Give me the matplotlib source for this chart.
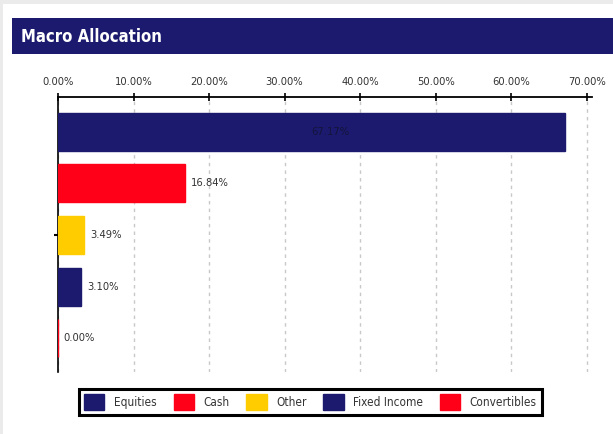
import matplotlib
matplotlib.use("Agg")
import matplotlib.pyplot as plt
from matplotlib.patches import Rectangle, Patch
import numpy as np

# --- data ---
categories = ["Equities", "Cash", "Other", "Fixed Income", "Convertibles"]
values = [67.17, 16.84, 3.49, 3.10, 0.00]
colors = ["#1b1a6e", "#ff0018", "#ffcc00", "#1b1a6e", "#ff0018"]
tick_values = [0, 10, 20, 30, 40, 50, 60, 70]
tick_labels = ["0.00%", "10.00%", "20.00%", "30.00%", "40.00%", "50.00%", "60.00%", "70.00%"]

plt.rcParams['font.family'] = ['DejaVu Sans']
plt.rcParams['font.stretch'] = 'condensed'

W, H = 613, 434
fig = plt.figure(figsize=(W / 100, H / 100), dpi=100)
fig.patch.set_facecolor("white")

# outer grey border
fig.patches.append(Rectangle((0, 1 - 4 / H), 1, 4 / H, transform=fig.transFigure,
                             facecolor="#ebebeb", edgecolor="none", zorder=0))
fig.patches.append(Rectangle((0, 0), 3 / W, 1, transform=fig.transFigure,
                             facecolor="#ebebeb", edgecolor="none", zorder=0))
# title banner
fig.patches.append(Rectangle((12 / W, 1 - 54 / H), 1 - 12 / W, 36 / H, transform=fig.transFigure,
                             facecolor="#1b1a6e", edgecolor="none", zorder=1))
fig.text(21 / W, 1 - 36.5 / H, "Macro Allocation", color="white", fontsize=12,
         fontweight="bold", ha="left", va="center")

# --- axes ---
ax = fig.add_axes([58 / W, (H - 372) / H, 534 / W, 275 / H])
y = np.arange(len(categories))
ax.barh(y, values, height=0.735, color=colors, edgecolor=colors, linewidth=1, zorder=3)

for i, v in enumerate(values):
    if v > 40:
        ax.text(v / 2, i, f"{v:.2f}%", ha="left", va="center", fontsize=8, color="#14143c", zorder=4)
    else:
        ax.annotate(f"{v:.2f}%", (v, i), xytext=(4, 0), textcoords="offset points",
                    ha="left", va="center", fontsize=8, color="#333333", zorder=4)

ax.set_xlim(0, 70.7)
ax.set_ylim(4.65, -0.67)

ax.xaxis.tick_top()
ax.set_xticks(tick_values)
ax.set_xticklabels(tick_labels, fontsize=8, color="#333333")
ax.tick_params(axis="x", direction="inout", length=6, width=1.2, pad=4)
ax.set_yticks([2])
ax.set_yticklabels([""])
ax.tick_params(axis="y", direction="out", length=3, width=1.5)

ax.grid(axis="x", color="#c8c8c8", linestyle=(0, (2.5, 3)), linewidth=1)
ax.set_axisbelow(True)

for s in ["right", "bottom"]:
    ax.spines[s].set_visible(False)
ax.spines["top"].set_linewidth(1.3)
ax.spines["left"].set_linewidth(1.2)

# legend
handles = [Patch(facecolor=c, edgecolor=c) for c in colors]
leg = fig.legend(handles, categories, loc="center", bbox_to_anchor=(310.5 / W, 1 - 402 / H),
                 ncol=5, fontsize=8.5, frameon=True, fancybox=False, framealpha=1,
                 handlelength=1.7, handleheight=1.7, handletextpad=0.8, columnspacing=1.45,
                 borderpad=0.45, borderaxespad=0)
leg.get_frame().set_edgecolor("black")
leg.get_frame().set_linewidth(2.2)
for t in leg.get_texts():
    t.set_color("#333333")

fig.savefig("out.png", dpi=100)
